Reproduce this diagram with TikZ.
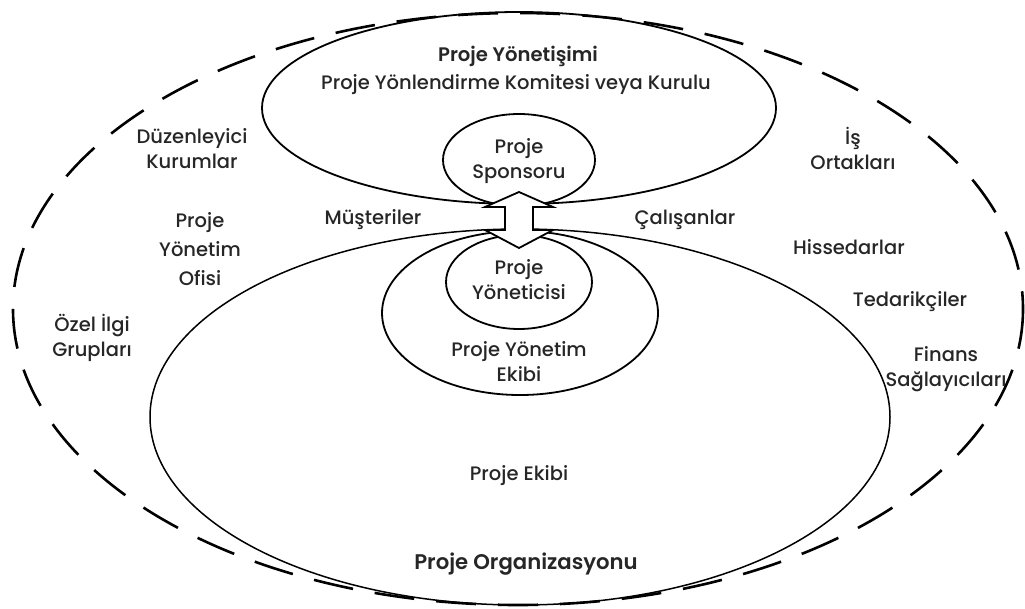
\documentclass[tikz,border=0pt]{standalone}
\usepackage{fontspec}
\setmainfont{Poppins}[UprightFont={* Medium}, BoldFont={* SemiBold}]
\begin{document}
\begin{tikzpicture}[x=1pt,y=-1pt,
  lbl/.style={font=\fontsize{19.5}{25}\selectfont, align=center, inner sep=0pt, text=black!85},
  ttl/.style={lbl, font=\fontsize{20.5}{25}\selectfont\bfseries},
  ring/.style={draw=black, line width=1.8pt},
  thinring/.style={draw=black, line width=1.5pt},
  outer/.style={draw=black, line width=2.6pt, dash pattern=on 40pt off 22pt},
  dblarrow/.style={draw=black, fill=white, line width=1.8pt, line join=miter}]
\useasboundingbox (0,0) rectangle (1025,608);

% surrounding environment
\draw[outer] (518,309) ellipse [x radius=505, y radius=296];

% governance, sponsor, organisation and teams
\draw[ring] (519,108) ellipse [x radius=257, y radius=96];
\draw[ring] (519,160) ellipse [x radius=76, y radius=46];
\draw[thinring] (520,417) ellipse [x radius=370, y radius=188];
\draw[ring] (520,313) ellipse [x radius=138, y radius=82];
\draw[ring] (519,282) ellipse [x radius=73, y radius=47];

% two-way link between sponsor and manager
\draw[dblarrow] (519,192) -- (553,207) -- (533,207) -- (533,230) -- (553,230)
  -- (519,248) -- (485,230) -- (505,230) -- (505,207) -- (485,207) -- cycle;

% labels
\node[ttl, font=\fontsize{19.6}{25}\selectfont\bfseries] (gov) at (518,56) {Proje Yönetişimi};
\node[lbl] (board) at (516,85) {Proje Yönlendirme Komitesi veya Kurulu};
\node[lbl] (sponsor) at (519,161) {Proje\\Sponsoru};
\node[lbl] (manager) at (519,280) {Proje\\Yöneticisi};
\node[lbl] (pmteam) at (519,362) {Proje Yönetim\\Ekibi};
\node[lbl] (team) at (519,476) {Proje Ekibi};
\node[ttl, font=\fontsize{21.2}{25}\selectfont\bfseries] (org) at (526,564) {Proje Organizasyonu};
\node[lbl] (reg) at (192,149) {Düzenleyici\\Kurumlar};
\node[lbl, font=\fontsize{19.5}{29}\selectfont] (pmo) at (200,249) {Proje\\Yönetim\\Ofisi};
\node[lbl] (cust) at (373,220) {Müşteriler};
\node[lbl] (emp) at (685,220) {Çalışanlar};
\node[lbl] (partners) at (853,148) {İş\\Ortakları};
\node[lbl] (share) at (849,247) {Hissedarlar};
\node[lbl] (supp) at (910,302) {Tedarikçiler};
\node[lbl] (fin) at (946,369) {Finans\\Sağlayıcıları};
\node[lbl] (sig) at (92,338) {Özel İlgi\\Grupları};
\end{tikzpicture}
\end{document}
